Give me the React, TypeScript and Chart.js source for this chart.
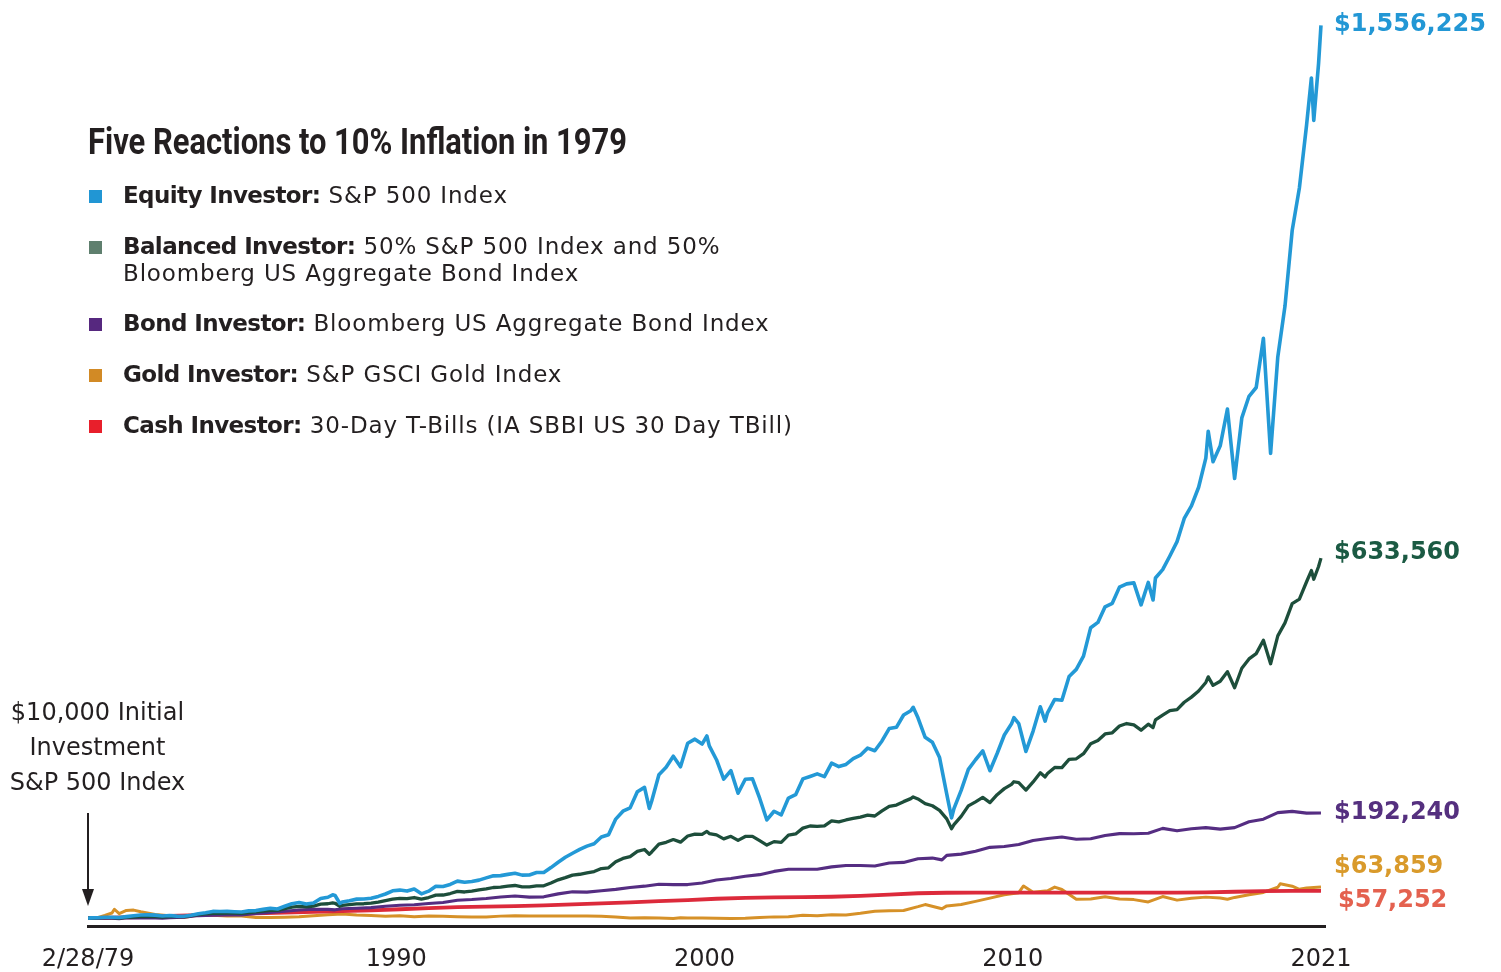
import React, { useEffect, useRef } from "react";
import { Chart, registerables } from "chart.js";

Chart.register(...registerables);

// Growth of $10,000 invested 2/28/1979 (values in thousands of US dollars)
const stockMonths = [
  "1979-02", "1979-03", "1979-06", "1979-09", "1979-12",
  "1980-03", "1980-06", "1980-09", "1980-12",
  "1981-03", "1981-06", "1981-09", "1981-12",
  "1982-03", "1982-06", "1982-09", "1982-12",
  "1983-03", "1983-06", "1983-09", "1983-12",
  "1984-03", "1984-06", "1984-09", "1984-12",
  "1985-03", "1985-06", "1985-09", "1985-12",
  "1986-03", "1986-06", "1986-09", "1986-12",
  "1987-03", "1987-06", "1987-08", "1987-09", "1987-11", "1987-12",
  "1988-03", "1988-06", "1988-09", "1988-12",
  "1989-03", "1989-06", "1989-09", "1989-12",
  "1990-03", "1990-06", "1990-09", "1990-12",
  "1991-03", "1991-06", "1991-09", "1991-12",
  "1992-03", "1992-06", "1992-09", "1992-12",
  "1993-03", "1993-06", "1993-09", "1993-12",
  "1994-03", "1994-06", "1994-09", "1994-12",
  "1995-03", "1995-06", "1995-09", "1995-12",
  "1996-03", "1996-06", "1996-09", "1996-12",
  "1997-03", "1997-06", "1997-09", "1997-12",
  "1998-03", "1998-06", "1998-08", "1998-09", "1998-12",
  "1999-03", "1999-06", "1999-09", "1999-12",
  "2000-03", "2000-06", "2000-08", "2000-09", "2000-12",
  "2001-03", "2001-06", "2001-09", "2001-12",
  "2002-03", "2002-06", "2002-09", "2002-12",
  "2003-03", "2003-06", "2003-09", "2003-12",
  "2004-03", "2004-06", "2004-09", "2004-12",
  "2005-03", "2005-06", "2005-09", "2005-12",
  "2006-03", "2006-06", "2006-09", "2006-12",
  "2007-03", "2007-06", "2007-09", "2007-10", "2007-12",
  "2008-03", "2008-06", "2008-09", "2008-12",
  "2009-02", "2009-03", "2009-06", "2009-09", "2009-12",
  "2010-03", "2010-06", "2010-09", "2010-12",
  "2011-03", "2011-04", "2011-06", "2011-09", "2011-12",
  "2012-03", "2012-05", "2012-06", "2012-09", "2012-12",
  "2013-03", "2013-06", "2013-09", "2013-12",
  "2014-03", "2014-06", "2014-09", "2014-12",
  "2015-03", "2015-06", "2015-09", "2015-12",
  "2016-02", "2016-03", "2016-06", "2016-09", "2016-12",
  "2017-03", "2017-06", "2017-09", "2017-12",
  "2018-01", "2018-03", "2018-06", "2018-09", "2018-12",
  "2019-03", "2019-06", "2019-09", "2019-12",
  "2020-03", "2020-06", "2020-09", "2020-12",
  "2021-03", "2021-06", "2021-08", "2021-09", "2021-11", "2021-12",
];

const equityValues = [
  10.0, 10.6, 10.88, 11.71, 11.7,
  11.2, 12.69, 14.11, 15.45,
  15.68, 15.32, 13.74, 14.67,
  13.59, 13.48, 15.01, 17.8,
  19.57, 21.76, 21.73, 21.81,
  21.29, 20.72, 22.72, 23.18,
  25.3, 27.15, 26.03, 30.64,
  34.96, 37.03, 34.45, 36.31,
  44.08, 46.29, 50.43, 49.37, 35.5, 38.2,
  40.39, 43.05, 43.17, 44.62,
  47.75, 51.93, 57.5, 58.68,
  56.95, 60.52, 52.19, 56.86,
  65.13, 64.96, 68.45, 74.2,
  72.32, 73.66, 75.96, 79.84,
  83.34, 83.71, 85.86, 87.9,
  84.59, 84.89, 89.02, 89.04,
  97.66, 106.93, 115.45, 122.52,
  129.04, 134.8, 138.91, 150.7,
  154.65, 181.61, 195.22, 201.03,
  229.03, 236.53, 200.03, 212.89, 258.52,
  271.35, 290.43, 272.2, 312.91,
  320.05, 311.49, 325.5, 308.48, 284.45,
  250.81, 265.51, 226.46, 250.6,
  251.45, 217.79, 180.1, 195.22,
  188.96, 218.07, 223.86, 251.21,
  255.46, 259.93, 255.08, 278.54,
  272.56, 276.27, 286.23, 292.22,
  304.48, 300.03, 316.94, 338.36,
  340.5, 361.88, 369.15, 375.2, 356.94,
  323.3, 314.57, 288.21, 224.87,
  183.7, 199.7, 231.5, 267.64, 284.37,
  299.65, 265.35, 295.19, 327.2,
  346.66, 357.3, 347.03, 298.77, 334.1,
  376.16, 351.2, 365.68, 388.79, 387.56,
  428.55, 440.86, 463.8, 513.09,
  522.24, 549.31, 555.32, 583.33,
  588.98, 590.66, 552.58, 591.38,
  561.0, 599.11, 613.65, 637.26, 662.11,
  702.24, 723.87, 756.25, 806.65,
  853.3, 800.59, 827.94, 891.74, 771.32,
  876.29, 913.74, 929.0, 1014.2,
  815.0, 982.0, 1069.96, 1200.8,
  1274.57, 1383.52, 1465.0, 1391.56, 1490.0, 1556.225,
];

const balancedValues = [
  10.0, 10.33, 10.54, 10.86, 10.83,
  10.16, 11.67, 11.95, 12.73,
  12.89, 12.68, 11.83, 12.82,
  12.59, 12.7, 14.31, 16.28,
  17.33, 18.42, 18.57, 18.8,
  18.67, 18.24, 19.85, 20.81,
  22.18, 23.78, 23.44, 26.46,
  29.25, 30.41, 29.56, 30.93,
  34.39, 35.03, 36.64, 35.88, 30.58, 32.17,
  33.58, 34.85, 35.07, 36.14,
  37.77, 40.55, 43.03, 44.45,
  43.79, 45.81, 42.88, 45.76,
  50.01, 50.16, 52.71, 56.4,
  55.4, 57.04, 59.05, 60.63,
  63.17, 63.92, 65.64, 66.66,
  64.4, 64.19, 65.92, 66.13,
  71.0, 76.41, 80.24, 84.68,
  86.09, 88.5, 90.77, 95.94,
  97.2, 107.7, 113.53, 116.62,
  125.63, 128.96, 120.82, 124.72, 138.37,
  141.46, 146.22, 141.69, 152.35,
  155.61, 155.0, 160.36, 156.6, 154.25,
  147.45, 151.8, 144.68, 151.55,
  151.81, 144.28, 136.67, 142.61,
  141.33, 153.8, 155.93, 166.0,
  169.65, 168.89, 169.93, 178.61,
  176.7, 180.11, 182.68, 185.13,
  188.46, 186.96, 195.83, 203.74,
  205.92, 211.85, 217.09, 219.94, 216.47,
  208.54, 204.72, 196.72, 182.05,
  164.92, 171.96, 186.38, 204.45, 211.54,
  219.13, 210.17, 223.91, 234.39,
  241.82, 246.3, 244.66, 231.93, 245.99,
  261.86, 254.7, 260.58, 271.05, 270.83,
  285.02, 286.07, 294.92, 312.0,
  317.58, 329.1, 331.09, 342.73,
  347.12, 344.72, 335.56, 345.99,
  340.0, 353.43, 361.66, 369.45, 371.25,
  383.98, 392.82, 403.4, 418.21,
  427.9, 413.27, 420.38, 436.9, 409.01,
  442.75, 459.02, 468.19, 491.22,
  450.62, 498.88, 521.43, 554.84,
  562.44, 592.62, 612.0, 597.0, 619.0, 633.56,
];

const bondMonths = [
  "1979-02", "1979-06", "1979-12", "1980-03", "1980-06", "1980-12",
  "1981-06", "1981-09", "1981-12", "1982-06", "1982-12", "1983-06", "1983-12",
  "1984-06", "1984-12", "1985-06", "1985-12", "1986-06", "1986-12",
  "1987-06", "1987-09", "1987-12", "1988-06", "1988-12", "1989-06", "1989-12",
  "1990-06", "1990-12", "1991-06", "1991-12", "1992-06", "1992-12",
  "1993-06", "1993-12", "1994-06", "1994-12", "1995-06", "1995-12",
  "1996-06", "1996-12", "1997-06", "1997-12", "1998-06", "1998-12",
  "1999-06", "1999-12", "2000-06", "2000-12", "2001-06", "2001-12",
  "2002-06", "2002-12", "2003-06", "2003-12", "2004-06", "2004-12",
  "2005-06", "2005-12", "2006-06", "2006-12", "2007-06", "2007-12",
  "2008-06", "2008-10", "2008-12", "2009-06", "2009-12", "2010-06", "2010-12",
  "2011-06", "2011-12", "2012-06", "2012-12", "2013-06", "2013-12",
  "2014-06", "2014-12", "2015-06", "2015-12", "2016-06", "2016-12",
  "2017-06", "2017-12", "2018-06", "2018-12", "2019-06", "2019-12",
  "2020-06", "2020-12", "2021-06", "2021-12",
];
const bondValues = [
  10.0, 10.2, 10.05, 9.25, 10.75, 10.32,
  10.32, 10.0, 10.97, 11.63, 14.54, 15.12, 15.77,
  15.61, 18.15, 20.15, 22.16, 24.15, 25.55,
  25.29, 24.5, 26.27, 27.32, 28.34, 30.61, 32.45,
  33.42, 35.37, 37.14, 41.03, 42.26, 44.07,
  46.71, 48.38, 46.44, 46.98, 52.15, 55.67,
  55.11, 57.67, 59.98, 63.27, 65.48, 68.77,
  68.08, 68.23, 70.96, 76.14, 78.8, 82.54,
  85.43, 91.04, 94.68, 94.78, 94.8, 98.85,
  101.32, 101.22, 100.51, 105.58, 106.64, 112.97,
  114.1, 111.0, 118.85, 120.99, 125.86, 132.66, 134.04,
  137.66, 144.49, 147.96, 150.56, 146.8, 147.55,
  153.3, 156.41, 156.25, 157.19, 165.52, 161.28,
  164.99, 166.92, 164.25, 166.92, 177.1, 181.45,
  192.88, 195.05, 191.93, 192.24,
];

const goldMonths = [
  "1979-02", "1979-06", "1979-09", "1979-12", "1980-01", "1980-03", "1980-06", "1980-09", "1980-12",
  "1981-06", "1981-12", "1982-06", "1982-12", "1983-06", "1983-12",
  "1984-06", "1984-12", "1985-06", "1985-12", "1986-06", "1986-12",
  "1987-06", "1987-12", "1988-06", "1988-12", "1989-06", "1989-12",
  "1990-06", "1990-12", "1991-06", "1991-12", "1992-06", "1992-12",
  "1993-06", "1993-12", "1994-06", "1994-12", "1995-06", "1995-12",
  "1996-06", "1996-12", "1997-06", "1997-12", "1998-06", "1998-12",
  "1999-06", "1999-09", "1999-12", "2000-06", "2000-12", "2001-06", "2001-12",
  "2002-06", "2002-12", "2003-06", "2003-12", "2004-06", "2004-12",
  "2005-06", "2005-12", "2006-06", "2006-12", "2007-06", "2007-12",
  "2008-03", "2008-10", "2008-12", "2009-06", "2009-12", "2010-06", "2010-12",
  "2011-06", "2011-08", "2011-12", "2012-06", "2012-09", "2012-12",
  "2013-06", "2013-12", "2014-06", "2014-12", "2015-06", "2015-12",
  "2016-06", "2016-12", "2017-06", "2017-12", "2018-06", "2018-09", "2018-12",
  "2019-06", "2019-12", "2020-06", "2020-07", "2020-12", "2021-03", "2021-06", "2021-12",
];
const goldValues = [
  10.0, 11.0, 14.8, 19.0, 25.5, 17.8, 23.5, 24.0, 21.2,
  16.6, 14.4, 11.3, 16.1, 15.0, 13.8,
  13.6, 11.1, 11.4, 11.8, 12.5, 14.1,
  16.1, 17.4, 15.7, 14.8, 13.4, 14.4,
  12.7, 13.9, 13.2, 12.7, 12.3, 12.0,
  13.6, 14.1, 13.9, 13.8, 13.9, 13.9,
  13.8, 13.3, 12.0, 10.4, 10.7, 10.4,
  9.4, 10.8, 10.4, 10.4, 9.8, 9.7, 10.0,
  11.4, 12.3, 12.5, 15.0, 14.2, 15.8,
  15.7, 18.5, 22.1, 22.8, 23.4, 30.0,
  33.6, 26.3, 31.3, 33.6, 39.1, 44.8, 50.6,
  54.2, 65.8, 55.1, 57.5, 63.9, 59.7,
  42.9, 43.4, 47.3, 43.2, 42.2, 38.2,
  47.5, 41.3, 44.7, 46.5, 45.0, 42.7, 46.0,
  50.7, 54.6, 63.6, 69.5, 65.5, 60.0, 62.5, 63.859,
];

const cashMonths = [
  "1979-02", "1979-12", "1980-12", "1981-12", "1982-12", "1983-12", "1984-12",
  "1985-12", "1986-12", "1987-12", "1988-12", "1989-12", "1990-12", "1991-12",
  "1992-12", "1993-12", "1994-12", "1995-12", "1996-12", "1997-12", "1998-12",
  "1999-12", "2000-12", "2001-12", "2002-12", "2003-12", "2004-12", "2005-12",
  "2006-12", "2007-12", "2008-12", "2009-12", "2010-12", "2011-12", "2012-12",
  "2013-12", "2014-12", "2015-12", "2016-12", "2017-12", "2018-12", "2019-12",
  "2020-12", "2021-12",
];
const cashValues = [
  10.0, 10.87, 12.09, 13.87, 15.32, 16.67, 18.32,
  19.73, 20.95, 22.11, 23.52, 25.5, 27.49, 29.03,
  30.04, 30.91, 32.12, 33.92, 35.68, 37.57, 39.41,
  41.26, 43.7, 45.36, 46.09, 46.55, 47.11, 48.52,
  50.85, 53.24, 54.09, 54.15, 54.2, 54.22, 54.26,
  54.27, 54.28, 54.29, 54.4, 54.83, 55.82, 56.99,
  57.22, 57.252,
];

const tickLabels = ["2/28/79", "1990", "2000", "2010", "2021"];
const titleText = "Five Reactions to 10% Inflation in 1979";
const seriesNames = ["Equity Investor:", "Balanced Investor:", "Bond Investor:", "Gold Investor:", "Cash Investor:"];
const seriesDescriptions = [
  " S&P 500 Index",
  " 50% S&P 500 Index and 50%\nBloomberg US Aggregate Bond Index",
  " Bloomberg US Aggregate Bond Index",
  " S&P GSCI Gold Index",
  " 30-Day T-Bills (IA SBBI US 30 Day TBill)",
];
const endLabels = ["$1,556,225", "$633,560", "$192,240", "$63,859", "$57,252"];
const annotationLines = ["$10,000 Initial", "Investment", "S&P 500 Index"];

// ---- styling ----
const lineColors = ["#2399d6", "#1d4e3b", "#552d82", "#d69128", "#dc2a3b"];
const lineWidths = [3.6, 3.3, 3.1, 3, 3.8];
const drawOrder = [0, 1, 2, 4, 3];
const legendColors = ["#2196d4", "#5f7f6e", "#56287f", "#d28a25", "#e81f2b"];
const labelColors = ["#2297d5", "#1b5a43", "#55307f", "#d99a2b", "#e4614f"];
const labelDy = [-1, -5, 0, -20, 10];
const labelDx = [0, 0, 0, 0, 4];
const legendBaselines = [204, 255, 332, 383, 434];
const INK = "#231f20";

function monthToYear(m: string): number {
  const [y, mo] = m.split("-").map(Number);
  return y + mo / 12;
}
function toPoints(months: string[], values: number[]) {
  return months.map((m, i) => ({ x: monthToYear(m), y: values[i] }));
}

const seriesData = [
  toPoints(stockMonths, equityValues),
  toPoints(stockMonths, balancedValues),
  toPoints(bondMonths, bondValues),
  toPoints(goldMonths, goldValues),
  toPoints(cashMonths, cashValues),
];

const xStart = monthToYear(stockMonths[0]);
const xEnd = monthToYear(stockMonths[stockMonths.length - 1]);
const tickValues = tickLabels.map((_, k) => xStart + (k * (xEnd - xStart)) / (tickLabels.length - 1));

const annotationPlugin = {
  id: "endLabelsAndArrow",
  afterDraw(chart: any) {
    const { ctx, chartArea, scales } = chart;
    const xs = scales.x;
    const ys = scales.y;
    ctx.save();
    ctx.font = "bold 24px 'DejaVu Sans'";
    ctx.textBaseline = "middle";
    ctx.textAlign = "left";
    seriesData.forEach((pts, i) => {
      const last = pts[pts.length - 1].y;
      const y = ys.getPixelForValue(last) + labelDy[i];
      ctx.fillStyle = labelColors[i];
      ctx.fillText(endLabels[i], chartArea.right + 9 + labelDx[i], y);
    });
    const x0 = Math.round(xs.getPixelForValue(xStart));
    ctx.strokeStyle = INK;
    ctx.fillStyle = INK;
    ctx.lineWidth = 2;
    ctx.beginPath();
    ctx.moveTo(x0, 813);
    ctx.lineTo(x0, 892);
    ctx.stroke();
    ctx.beginPath();
    ctx.moveTo(x0 - 6, 889);
    ctx.lineTo(x0 + 6, 889);
    ctx.lineTo(x0, 906);
    ctx.closePath();
    ctx.fill();
    ctx.restore();
  },
};

export default function App() {
  const canvasRef = useRef<HTMLCanvasElement | null>(null);

  useEffect(() => {
    const canvas = canvasRef.current;
    if (!canvas) return;
    const chart = new Chart(canvas, {
      type: "line",
      data: {
        datasets: seriesData.map((pts, i) => ({
          label: seriesNames[i],
          data: pts,
          borderColor: lineColors[i],
          backgroundColor: lineColors[i],
          borderWidth: lineWidths[i],
          pointRadius: 0,
          tension: 0,
          fill: false,
          order: drawOrder[i],
          borderJoinStyle: "round" as const,
        })),
      },
      options: {
        responsive: false,
        animation: false,
        devicePixelRatio: 1,
        events: [],
        layout: { padding: { left: 88, right: 176, top: 0, bottom: 0 } },
        plugins: {
          legend: { display: false },
          tooltip: { enabled: false },
          title: { display: false },
        },
        scales: {
          x: {
            type: "linear",
            min: xStart,
            max: xEnd + 0.14,
            grid: { display: false, drawTicks: false },
            border: { display: true, color: INK, width: 3 },
            ticks: {
              autoSkip: false,
              maxRotation: 0,
              minRotation: 0,
              padding: 19,
              color: INK,
              font: { family: "'DejaVu Sans'", size: 24 },
              callback: (_v: any, i: number) => tickLabels[i],
            },
            afterBuildTicks: (scale: any) => {
              scale.ticks = tickValues.map((v) => ({ value: v }));
            },
            afterFit: (scale: any) => {
              scale.height = 46;
            },
          },
          y: { display: false, min: -3.5, max: 1600 },
        },
      },
      plugins: [annotationPlugin],
    });
    return () => chart.destroy();
  }, []);

  const legendFont = "'DejaVu Sans', sans-serif";

  return (
    <div style={{ position: "absolute", left: 0, top: 0, width: 1501, height: 972, background: "#ffffff", overflow: "hidden" }}>
      <canvas ref={canvasRef} width={1501} height={972} style={{ position: "absolute", left: 0, top: 0, width: 1501, height: 972 }} />
      <div
        style={{
          position: "absolute",
          left: 88,
          top: 155 - 31,
          fontFamily: "Roboto, sans-serif",
          fontWeight: 700,
          fontSize: 36,
          lineHeight: "36px",
          color: INK,
          whiteSpace: "nowrap",
          transform: "scaleX(0.858)",
          transformOrigin: "left top",
        }}
      >
        {titleText}
      </div>
      {seriesNames.map((name, i) => (
        <React.Fragment key={name}>
          <div
            style={{
              position: "absolute",
              left: 89,
              top: legendBaselines[i] - 14,
              width: 13,
              height: 13,
              background: legendColors[i],
            }}
          />
          <div
            style={{
              position: "absolute",
              left: 123,
              top: legendBaselines[i] - 22,
              fontFamily: legendFont,
              fontSize: 23,
              lineHeight: "27px",
              color: INK,
              whiteSpace: "pre",
            }}
          >
            <span style={{ fontWeight: 700, letterSpacing: "-0.6px" }}>{name}</span>
            <span style={{ fontWeight: 400, letterSpacing: "0.85px" }}>{seriesDescriptions[i]}</span>
          </div>
        </React.Fragment>
      ))}
      <div
        style={{
          position: "absolute",
          left: 0,
          top: 695,
          width: 195,
          textAlign: "center",
          fontFamily: legendFont,
          fontSize: 24,
          lineHeight: "35px",
          color: INK,
          whiteSpace: "nowrap",
        }}
      >
        {annotationLines.map((t) => (
          <div key={t}>{t}</div>
        ))}
      </div>
    </div>
  );
}
